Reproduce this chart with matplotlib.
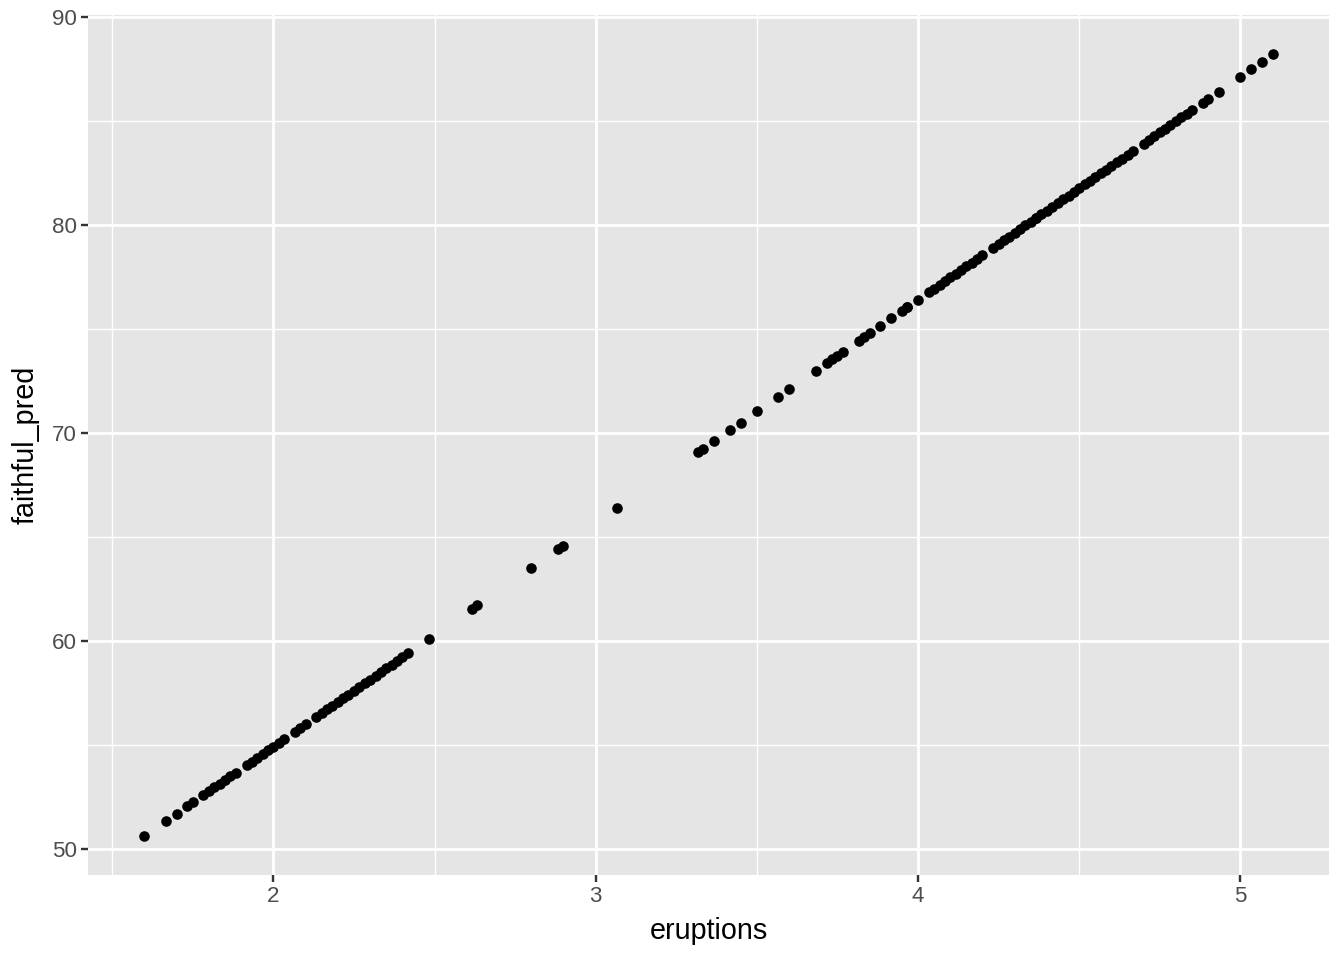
import matplotlib
matplotlib.use("Agg")
import matplotlib.pyplot as plt
from matplotlib.ticker import FixedLocator

plt.rcParams['font.family'] = ['Liberation Sans', 'DejaVu Sans']

eruptions = [1.600, 1.667, 1.700, 1.733, 1.750, 1.783, 1.800, 1.817, 1.833, 1.850,
             1.867, 1.883, 1.917, 1.933, 1.950, 1.967, 1.983, 2.000, 2.017, 2.033,
             2.067, 2.083, 2.100, 2.133, 2.150, 2.167, 2.183, 2.200, 2.217, 2.233,
             2.250, 2.267, 2.283, 2.300, 2.317, 2.333, 2.350, 2.367, 2.383, 2.400,
             2.417, 2.483, 2.617, 2.633, 2.800, 2.883, 2.900, 3.067, 3.317, 3.333,
             3.367, 3.417, 3.450, 3.500, 3.567, 3.600, 3.683, 3.717, 3.733, 3.750,
             3.767, 3.817, 3.833, 3.850, 3.883, 3.917, 3.950, 3.966, 3.967, 4.000,
             4.033, 4.050, 4.067, 4.083, 4.100, 4.117, 4.133, 4.150, 4.167, 4.183,
             4.200, 4.233, 4.250, 4.267, 4.283, 4.300, 4.317, 4.333, 4.350, 4.366,
             4.367, 4.383, 4.400, 4.417, 4.433, 4.450, 4.467, 4.483, 4.500, 4.517,
             4.533, 4.550, 4.567, 4.583, 4.600, 4.617, 4.633, 4.650, 4.667, 4.700,
             4.716, 4.733, 4.750, 4.767, 4.783, 4.800, 4.817, 4.833, 4.850, 4.883,
             4.900, 4.933, 5.000, 5.033, 5.067, 5.100]

faithful_pred = [50.64, 51.36, 51.71, 52.07, 52.25, 52.61, 52.79, 52.97, 53.14, 53.32,
                 53.51, 53.68, 54.04, 54.21, 54.40, 54.58, 54.75, 54.93, 55.12, 55.29,
                 55.65, 55.82, 56.01, 56.36, 56.54, 56.73, 56.90, 57.08, 57.26, 57.43,
                 57.62, 57.80, 57.97, 58.15, 58.34, 58.51, 58.69, 58.87, 59.04, 59.23,
                 59.41, 60.12, 61.55, 61.73, 63.52, 64.41, 64.59, 66.38, 69.06, 69.24,
                 69.60, 70.14, 70.49, 71.03, 71.75, 72.10, 72.99, 73.36, 73.53, 73.71,
                 73.89, 74.43, 74.60, 74.78, 75.14, 75.50, 75.86, 76.03, 76.04, 76.39,
                 76.75, 76.93, 77.11, 77.28, 77.47, 77.65, 77.82, 78.00, 78.18, 78.36,
                 78.54, 78.89, 79.08, 79.26, 79.43, 79.61, 79.79, 79.97, 80.15, 80.32,
                 80.33, 80.50, 80.68, 80.87, 81.04, 81.22, 81.40, 81.58, 81.76, 81.94,
                 82.11, 82.29, 82.48, 82.65, 82.83, 83.01, 83.18, 83.37, 83.55, 83.90,
                 84.08, 84.26, 84.44, 84.62, 84.79, 84.98, 85.16, 85.33, 85.51, 85.87,
                 86.05, 86.40, 87.12, 87.48, 87.84, 88.20]

x_ticks = [2, 3, 4, 5]
y_ticks = [50, 60, 70, 80, 90]

fig = plt.figure(figsize=(1344 / 144, 960 / 144), dpi=144)
ax = fig.add_axes([88 / 1344, 85 / 960, (1329 - 88) / 1344, (875 - 15) / 960])
ax.set_facecolor("#E5E5E5")
ax.set_axisbelow(True)

ax.scatter(eruptions, faithful_pred, s=28, color="black", linewidths=0, zorder=3)

xmin, xmax = min(eruptions), max(eruptions)
ymin, ymax = min(faithful_pred), max(faithful_pred)
xr, yr = xmax - xmin, ymax - ymin
ax.set_xlim(xmin - 0.05 * xr, xmax + 0.05 * xr)
ax.set_ylim(ymin - 0.05 * yr, ymax + 0.05 * yr)

ax.xaxis.set_major_locator(FixedLocator(x_ticks))
ax.yaxis.set_major_locator(FixedLocator(y_ticks))
ax.xaxis.set_minor_locator(FixedLocator([1.5, 2.5, 3.5, 4.5]))
ax.yaxis.set_minor_locator(FixedLocator([55, 65, 75, 85]))

ax.grid(which="major", color="white", linewidth=1.4)
ax.grid(which="minor", color="white", linewidth=0.7)
for s in ax.spines.values():
    s.set_visible(False)

ax.tick_params(which="major", length=3.6, width=1.2, color="#333333",
               labelcolor="#4D4D4D", labelsize=11.2, pad=2.0)
ax.tick_params(which="minor", length=0)

ax.set_xlabel("eruptions", fontsize=14.4, color="black", labelpad=5)
ax.set_ylabel("faithful_pred", fontsize=14.4, color="black", labelpad=6)

fig.savefig("out.png", dpi=144, facecolor="white")
